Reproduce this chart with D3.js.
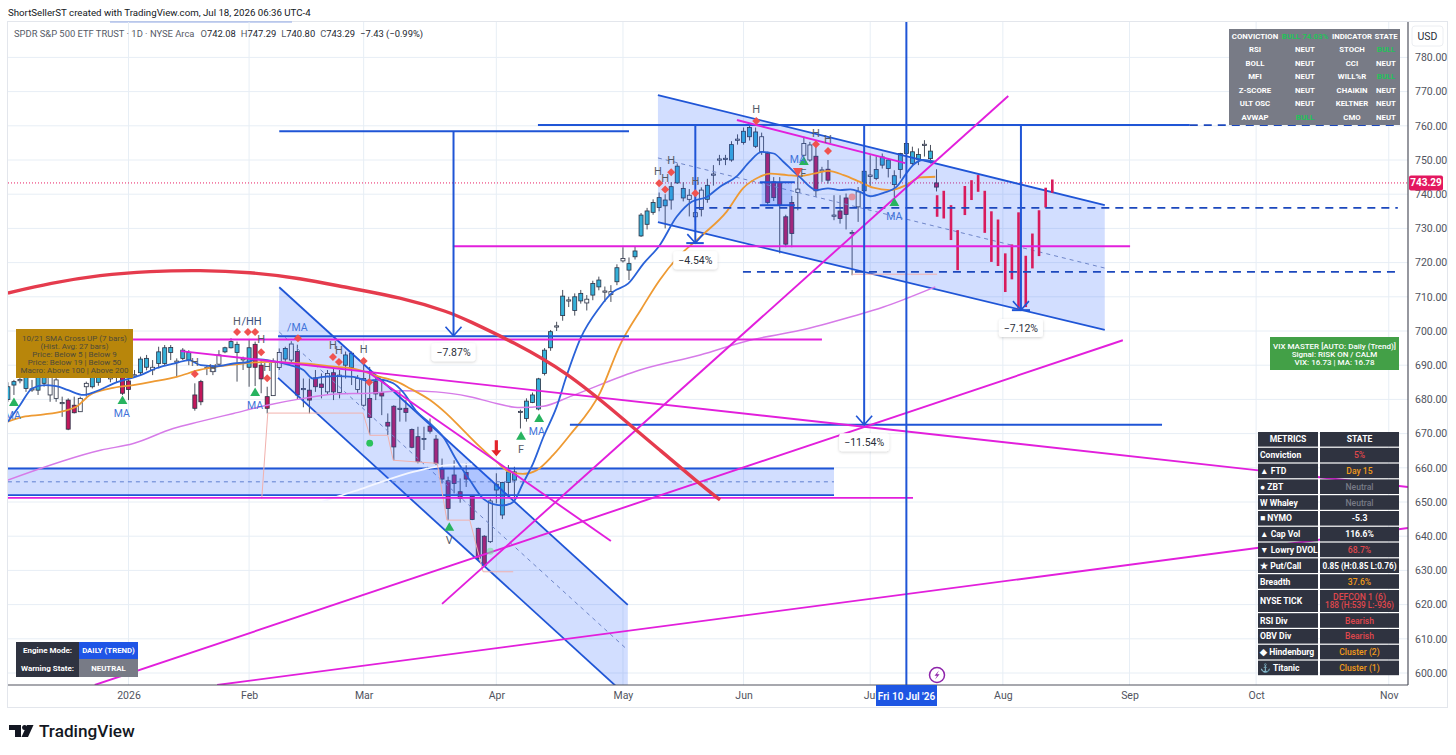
<!DOCTYPE html>
<html lang="en">
<head>
<meta charset="utf-8"/>
<style>
html, body { margin: 0; padding: 0; background: #fff; }
svg { display: block; }
text { font-family: Roboto, "Noto Sans", sans-serif; }
</style>
</head>
<body>
<svg id="chart" width="1456" height="755"></svg>
<script src="https://cdnjs.cloudflare.com/ajax/libs/d3/7.8.5/d3.min.js"></script>
<script>
// daily bars, first bar is trading day -20 (day 0 = first bar of 2026)
var firstDay = -20;
var barOpen = [
  680,684.2,685.6,683.2,682.9,682.7,684.7,686.6,685.7,679.1,
  679.8,678.3,676.4,683.7,683.7,685,688,686,688,686.6,
  685.4,687.1,687.8,689.4,688.6,690.5,690.5,693.7,691,692,
  691.5,681.3,685.2,689.3,688.1,690.3,693.9,695.1,693.7,691.8,
  689.4,696.1,690,680.8,681.1,689.3,691.8,691.5,694,683,
  682.7,686.3,684.5,687.6,687.8,682,690,689.3,686.1,686.1,
  680.3,685.2,682,673.3,678,677.4,677.4,671.2,669.1,668.6,
  672.2,668.4,659.5,656.2,657.9,653,658.6,651.7,642.3,640,
  638.4,653.5,646.2,655.7,656.4,676.3,674.4,679.1,677.2,687.6,
  695.1,701.4,704.5,709,706,708.8,708.2,710.5,712.9,711.6,
  710.7,714.4,720.5,717.8,721.7,727.8,731.2,734.7,736.1,736.6,
  738.3,743.3,738.9,738.5,733.4,735.5,738.5,745.8,750.2,750.4,
  750,756,755.1,756.8,754,756.8,751.9,743.6,743.4,733.4,
  737.6,741.5,751.4,754.4,751.1,747,747.3,733.9,735.1,738.9,
  728.8,736.3,741,745.2,744.6,748.5,747.5,742.8,747.2,751.9,
  749,750.2,754.5,750.4,742.08
];
var barHigh = [
  685,685.7,686.6,687.6,685.7,687.6,687.6,687.6,686.6,680.8,
  680.3,680.8,680.8,685.2,687.1,688.5,690,689.5,689,687.6,
  687.6,688.6,692.5,693,691.5,695.4,695.9,695.9,692,695,
  694.4,684.7,685.7,690,690,694.4,695.4,697.9,696.9,692.5,
  697.4,696.9,691.5,683.7,692,694.9,695.4,697,696,686.1,
  686.1,688.6,687.6,688.6,689,688.6,694,694,687.1,690.5,
  689.5,686.6,685.2,675.9,678.3,682.7,679.8,671.5,672,672,
  674.4,669.6,662.7,657.4,662.2,656.9,661.3,652,642.5,640.3,
  651,658.4,655.9,660.8,660.3,677,680.3,682,686.3,695,
  700.3,702.7,712,710,711,712,710.5,714.7,715.9,713,
  713.4,719.5,724.5,721.5,724.6,734.5,736,738.5,740.5,740,
  743.5,749,743.5,741.5,740,742,744.5,748.5,751.5,751.5,
  755.5,757.5,759.5,760.2,759.5,758,752.4,745,745,734,
  739.5,747,756.8,755.3,754.8,748,750,739.7,739.7,740.2,
  729.5,742.1,747,751.4,751.1,751.9,750.5,747,752.1,755,
  753.9,753.4,755.8,754.4,747.29
];
var barLow = [
  679.3,681.3,684.7,682.2,682.2,681.3,683.7,679.3,679.3,674.9,
  671,675.9,676.4,680.8,683.2,684,687,685,685,681.3,
  679.8,686.6,687.1,688.5,687.1,689.1,690,691.5,686.6,691.5,
  690,676.7,678.3,687.1,687.1,689.6,693.5,694.9,685.2,688.6,
  683.7,683.9,681.8,675.9,681.1,688.6,691,690.5,680,677.7,
  675.9,682.2,680.3,681.3,679.8,680.3,686.1,684.2,681.8,677.9,
  669.6,679.8,675.4,669.6,662.2,673.5,673.5,665.7,661.3,665.2,
  670,660.8,655.4,644.7,652.5,649.8,654.4,644.7,633,631,
  638,649.6,645,651.5,651,671.5,673.5,678.9,676.8,687,
  694.2,700,703,707,704.5,708,706,709,711.9,708.5,
  708.5,713.4,720,714.9,720.9,727.5,729.7,734,735,730,
  735.5,743,737.9,733.5,732,733.5,737.5,742.5,748.5,748.5,
  749.5,754.5,754.5,755.7,753.5,751.5,737,738,722.7,724.5,
  724.5,735.3,751,749.5,739.2,743.6,743.1,732.4,731.4,729.7,
  716.3,731.9,740.7,742.2,744.1,747.5,744.9,739.2,744.6,751.5,
  748.5,748.5,751,749,740.8
];
var barClose = [
  683.7,685.2,685.8,686.6,683.1,686.6,686.6,681.3,680.3,679,
  671.3,676.1,680.3,684.7,686.6,688,689,689,687,681.8,
  682.9,687.2,691.8,692,689.4,693.9,695.1,695.2,691.2,694.4,
  693.7,677.4,679.3,689.4,689.1,693,695.1,696.9,696.1,691.9,
  695.1,689.4,686,677.4,691,693.7,694.9,696.2,681.3,683.2,
  679.8,683.7,683.5,682.2,682.2,687.1,693,693.5,682.9,678.3,
  674.7,681.6,681,672.2,666.1,677.2,676.2,666,661.8,668.5,
  670.7,661.3,656.7,648.1,655.4,651,656.7,644.9,633.5,631.5,
  650.3,655.2,655.7,658.8,658.8,676.5,679.5,681.3,686,694.4,
  699.8,701.5,710.2,709.1,710,711,709.3,713.9,714.9,711.7,
  711.5,718.5,721.2,719.7,723.4,733.9,735.1,737.6,739,738.3,
  742.2,748.2,741.7,739.7,734.6,741.2,742.6,745.9,750.3,750.5,
  754.5,756.1,758.4,759.5,758.2,752.4,737.6,739,736.8,725.4,
  728.5,740.5,754.8,750,741,747.1,744.1,733.8,732.9,734.1,
  728.7,740.7,746.7,745.6,747.2,750.9,750,745.4,751.9,754.8,
  752.4,751.6,754.6,752.6,743.29
];
// U = blue up state, D = crimson down state, N = hollow
var barState = [
  "UUNUNUUNNN","DDNNUUUNND","DNUUNUUUNU","UDDNNNUUUN","UDDDNNUNDN",
  "DDDNDNUUNN","DDDDDNDDDN","DDDDDDDDDD","NUUUUNUUUU","UNUNUUNUUN",
  "NUNUUUUUUU","UUUNNNUNNN","UNUUUNDDDD","DNNNDNDNDD","NNUNUUUUUU","UUNUD"
].join("").split("");

// projected bars after the last close: day position, top, bottom
var projDay = [134.1,135.2,136.4,137.5,138.7,139.8,140.9,142,143.1,144.2,145.4,146.5,147.6,148.8,149.9,151,152.1,153.2];
var projTop = [739.7,741,736.8,729.5,742.4,744.1,745.6,741,735,732.6,722.7,725.3,734.7,722,728.5,735.3,741.9,744.3];
var projBot = [733.4,732.9,726.6,717.8,733.9,738.3,740.7,728.7,720.2,719,711.4,715.1,706.6,707,718.3,721.9,736.1,740.4];

// moving averages, points
var ma10Day = [-20,-18,-16,-14,-12,-10,-7.5,-5.6,-2,2,4.6,8,10,12,14.6,17.4,20,21,23,26.8,29,30.6,32.3,34.5,37.3,39.5,41.7,43.9,45.5,47.8,50,52.2,54.4,56.6,58.8,60.5,62.1,63.8,65.4,67.1,68.8,71,72.6,75,78,80.4,82.9,85.4,88.1,90.9,93.4,95.9,98.1,100.9,103,105,107,108.6,110.3,111.4,113,114.1,116,118,119.7,121.3,123,125.2,127.4,129,130.1,131.8,133.8];
var ma10Val = [673.5,678.3,683.2,684.2,683.9,682.7,681.3,682.2,685,687.1,689.1,690.7,691.5,690,689.7,690.5,691,691.8,691.5,690,688.6,686.1,686.6,686.8,686.6,685.5,685.8,684.7,682.2,676.4,673,669,662.2,656.4,651,649.4,649,650,655.4,661.3,669,677.8,686.6,698,706.6,711.5,713.9,719.7,725.1,733.4,737.8,739.2,742.2,745.3,749.5,752.4,751.9,749.5,746.6,744.9,742.2,741.2,741.7,741.2,741.4,740.7,739.4,740.4,742.2,746.1,748.5,750,749.5];
var ma21Day = [-20,-17.5,-14,-10.8,-8.6,-6.4,-3,0.8,4,8,11.8,15.2,19,23,29,34.5,37.3,41.7,44.5,46.7,50,52.7,55.5,58.3,61,63.2,65.4,67.7,70.4,73.2,78.2,81.5,85.1,88.1,90.9,94.8,99.2,101.9,104.7,106.4,109.2,111.4,113.6,116,118.6,121.3,123.5,126.3,129,131.3,133.8];
var ma21Val = [673.5,674.9,675.6,676.6,677.9,681.3,683.2,684.2,685.2,686.6,688.6,689.7,690.5,691,690.5,689.5,689,686.6,685.2,683.2,679.8,675.9,671,666.1,661.8,658.8,658.2,659.3,663.7,669.6,681.9,695.9,706.6,714.9,721.2,727.5,734.9,741.7,745.1,746,745.6,745.3,746,746.8,745.6,743.6,741.9,741.2,742.7,744.9,745.1];
var ma100Day = [-20,-4.5,0.8,7.4,11.8,17.4,23,29,34.5,40,45.5,51,56.6,61,64.9,68.8,73.2,84.8,94.8,103,111.4,119.7,125.2,129,133.8];
var ma100Val = [656.4,665.2,667.1,671.5,673.5,675.9,678.3,680.3,681.6,681.8,682.5,682.2,680.8,678.8,677.6,678,680.8,688.6,693,697.3,700.2,704.1,707,709.5,712.9];
var ma200Day = [32,34.5,38.9,42.8,47.2,51,54.9,57];
var ma200Val = [650,651.5,654,656.4,658.8,660.3,661,661];

// thin salmon support steps
var stepDay = [22.1,23.1,38.9,40,43,43.9,51.2,52.8,56.6,58.8,63.8];
var stepVal = [651,676,676,669.5,669.5,662.2,661.3,644.7,644.7,629.6,629.6];
var stepLateDay = [120,134.1];
var stepLateVal = [716.6,716.6];

// red arc drawing
var arcDay = [-20,-13,-4.7,3.6,11.9,20.1,28.4,36.7,45,53.3,56.1,63.8,72.7,81.5,88.1,94.8,98.1];
var arcVal = [711.1,714,716.4,717.5,717.8,717.2,715.5,712.5,709.9,705.5,703.2,696.8,688,675.1,665.2,655.2,650.6];

// parallel channels [day1, price1, day2, price2]
var channelFallA = { upper: [25,712.8,82.8,619.9], lower: [24.8,686.3,82.8,593], mid: [25,699.7,82.8,606.7] };
var channelFallB = { upper: [87.8,769,161.9,736.8], lower: [87.8,731.8,161.9,700.3], mid: [87.8,750.6,161.9,718.4] };
var rangeBox = [-20,659.8,117,652];
var rangeMid = [-20,655.9,117,655.9];
var miniBox = [105,743.5,110,736.8];

var blueSolid = [
  [25,758.4,83,758.4],[24.8,698.5,83,698.5],[73.2,672.6,171.4,672.6],[67.9,760.2,176,760.2],
  [92.5,725.7,95.4,725.7],[146.5,706.1,149.5,706.1],[104.7,743.5,110.5,743.5],[104.7,736.8,110.5,736.8]
];
var blueDashed = [[176,760.2,210.5,760.2],[94,736,210.5,736],[101.9,717.3,210.5,717.3]];
var magentaLines = [
  [53.8,724.8,166.1,724.8],[-18,697.5,115,697.5],[8.7,694.1,212.2,654.4],[39.7,688,80,638.6],
  [52,620.2,145.9,768.7],[-5.6,596.5,164.9,697.3],[14.7,596.5,212.2,642.4],[-20,651.2,130.1,651.2],
  [100.9,761.7,128.8,749.1]
];

// drop measures: day, from price, to price, label price, label
var dropDay = [53.9,94,122,148];
var dropFrom = [758.4,760.2,760.2,760.2];
var dropTo = [698.6,725.7,672.6,706.1];
var dropLabelAt = [693.8,720.7,667.5,700.9];
var dropLabel = ["\u22127.87%","\u22124.54%","\u221211.54%","\u22127.12%"];

// signal markers
var diamondDay = [18,19.8,21,22,23,11,28.1,33.9,34.9,39,39.9,88,89,90,94,104.1,114,116];
var diamondVal = [699.7,699.7,699.7,693.8,686.2,687.4,697.9,692.4,690.9,691.2,685,743.2,741.4,746.4,740.3,761.4,754.6,752.6];
var greenUpDay = [-19,-1,21,53.2,65.1,68.1,112,127];
var greenUpVal = [678.9,679.5,681.8,642.4,669,674.2,749.4,737.4];
var dotDay = [40,120,60];
var dotVal = [667.2,739.2,635.6];
var dotKind = ["bull","warn","faint"];

var noteText = ["H","/HH","H","H","H","H","H","H","H","H","H","H","H","H","H","H","MA","MA","MA","/MA","MA","MA","MA","F","F","V"];
var noteDay = [18,20.4,22,23,11,14,33.9,34.9,39,87.8,89,90,94,104.1,114,116,-19.2,-1.1,21,28,67.7,111,127,65.1,111.9,53.2];
var noteVal = [702.9,702.9,697.6,689.4,690.9,689.2,695.9,694.4,694.7,746.8,744.7,750,743.8,764.9,757.9,756.1,675.4,676,678.4,701.1,670.7,750.3,733.6,665.5,746.2,638.9];

// axes
var priceTicks = d3.range(600, 790, 10);
var monthDay = [0,20,39,61,82,102,123,145,166,187,209];
var monthName = ["2026","Feb","Mar","Apr","May","Jun","Jul","Aug","Sep","Oct","Nov"];

// status tables
var gridRows = [
  ["CONVICTION","BULL 74.03%","INDICATOR","STATE"],
  ["RSI","NEUT","STOCH","BULL"],
  ["BOLL","NEUT","CCI","NEUT"],
  ["MFI","NEUT","WILL%R","BULL"],
  ["Z-SCORE","NEUT","CHAIKIN","NEUT"],
  ["ULT OSC","NEUT","KELTNER","NEUT"],
  ["AVWAP","BULL","CMO","NEUT"]
];
var metricNames = ["METRICS","Conviction","\u25B2 FTD","\u25CF ZBT","W Whaley","\u25A0 NYMO","\u25B2 Cap Vol","\u25BC Lowry DVOL","\u2605 Put/Call","Breadth","NYSE TICK","RSI Div","OBV Div","\u25C6 Hindenburg","\u2693 Titanic"];
var metricStates = ["STATE","5%","Day 15","Neutral","Neutral","-5.3","116.6%","68.7%","0.85 (H:0.85 L:0.76)","37.6%","DEFCON 1 (6)|188 (H:539 L:-936)","Bearish","Bearish","Cluster (2)","Cluster (1)"];
var metricTone = ["head","bad","warn","mute","mute","plain","plain","bad","plain","warn","bad","bad","bad","warn","warn"];
var legendLines = ["10/21 SMA Cross UP (7 bars)","(Hist. Avg: 27 bars)","Price: Below 5 | Below 9","Price: Below 19 | Below 50","Macro: Above 100 | Above 200"];
var vixLines = ["VIX MASTER [AUTO: Daily (Trend)]","Signal: RISK ON / CALM","VIX: 16.73  |  MA: 16.78"];

var paneLeft = 8, paneRight = 1408, paneTop = 22, paneBottom = 685;
var blue = "#1f55d6", magenta = "#e21fdc", crimson = "#c2185b";
var svg = d3.select("#chart");

var x = d3.scaleLinear().domain([0, 200]).range([128.5, 1334.5]);
var y = d3.scaleLinear().domain([600, 780]).range([673, 57.4]);

var defs = svg.append("defs");
defs.append("clipPath").attr("id", "pane").append("rect")
  .attr("x", paneLeft).attr("y", paneTop)
  .attr("width", paneRight - paneLeft).attr("height", paneBottom - paneTop);
var shadow = defs.append("filter").attr("id", "soft").attr("x", "-20%").attr("y", "-30%").attr("width", "140%").attr("height", "160%");
shadow.append("feDropShadow").attr("dx", 0).attr("dy", 1).attr("stdDeviation", 1.5).attr("flood-color", "#000").attr("flood-opacity", 0.18);

// frame
svg.append("rect").attr("x", 7.5).attr("y", 21.5).attr("width", 1440).attr("height", 686)
  .attr("fill", "none").attr("stroke", "#e3e6ec");
svg.append("line").attr("x1", 110).attr("x2", 292).attr("y1", 22).attr("y2", 22)
  .attr("stroke", "#8fa8e6").attr("stroke-width", 1.2);

// grid
var grid = svg.append("g").attr("clip-path", "url(#pane)");
grid.selectAll("line.h").data(priceTicks).enter().append("line").attr("class", "h")
  .attr("x1", paneLeft).attr("x2", paneRight)
  .attr("y1", function(d) { return y(d); }).attr("y2", function(d) { return y(d); })
  .attr("stroke", "#e7eef5");
grid.selectAll("line.v").data(monthDay).enter().append("line").attr("class", "v")
  .attr("y1", paneTop).attr("y2", paneBottom)
  .attr("x1", function(d) { return x(d); }).attr("x2", function(d) { return x(d); })
  .attr("stroke", "#e7eef5");

var plot = svg.append("g").attr("clip-path", "url(#pane)");

// last price dotted line
plot.append("line").attr("x1", paneLeft).attr("x2", paneRight)
  .attr("y1", y(743.29)).attr("y2", y(743.29))
  .attr("stroke", "#e91e63").attr("stroke-width", 1).attr("stroke-dasharray", "1 2");

// candles
var bars = d3.range(barOpen.length).map(function(k) {
  return { day: firstDay + k, o: barOpen[k], h: barHigh[k], l: barLow[k], c: barClose[k], s: barState[k] };
});
var stateFill = { U: "#35b0d8", D: crimson, N: "#ffffff" };
var candle = plot.append("g").selectAll("g").data(bars).enter().append("g");
candle.append("line")
  .attr("x1", function(d) { return x(d.day); }).attr("x2", function(d) { return x(d.day); })
  .attr("y1", function(d) { return y(d.h); }).attr("y2", function(d) { return y(d.l); })
  .attr("stroke", "#4a4f5c").attr("stroke-width", 1);
candle.append("rect")
  .attr("x", function(d) { return x(d.day) - 2; }).attr("width", 4)
  .attr("y", function(d) { return y(Math.max(d.o, d.c)); })
  .attr("height", function(d) { return Math.max(1.2, Math.abs(y(d.o) - y(d.c))); })
  .attr("fill", function(d) { return stateFill[d.s]; })
  .attr("stroke", "#2a3145").attr("stroke-width", 0.8);

function drawCurve(days, vals, color, width, curve) {
  var pts = days.map(function(d, k) { return [d, vals[k]]; });
  plot.append("path").datum(pts)
    .attr("d", d3.line().x(function(d) { return x(d[0]); }).y(function(d) { return y(d[1]); }).curve(curve || d3.curveMonotoneX))
    .attr("fill", "none").attr("stroke", color).attr("stroke-width", width);
}
function drawSeg(s, color, width, dash) {
  plot.append("line")
    .attr("x1", x(s[0])).attr("y1", y(s[1])).attr("x2", x(s[2])).attr("y2", y(s[3]))
    .attr("stroke", color).attr("stroke-width", width).attr("stroke-dasharray", dash || null);
}

// filled channels and boxes
var fillBlue = "rgba(41,98,255,0.21)";
function drawChannel(ch) {
  var pts = [[ch.upper[0], ch.upper[1]], [ch.upper[2], ch.upper[3]], [ch.lower[2], ch.lower[3]], [ch.lower[0], ch.lower[1]]];
  plot.append("polygon")
    .attr("points", pts.map(function(p) { return x(p[0]) + "," + y(p[1]); }).join(" "))
    .attr("fill", fillBlue);
  drawSeg(ch.mid, "#6f86c9", 1, "4 4");
  drawSeg(ch.upper, blue, 1.8);
  drawSeg(ch.lower, blue, 1.8);
}
drawChannel(channelFallA);
drawChannel(channelFallB);
plot.append("rect").attr("x", x(rangeBox[0])).attr("y", y(rangeBox[1]))
  .attr("width", x(rangeBox[2]) - x(rangeBox[0])).attr("height", y(rangeBox[3]) - y(rangeBox[1]))
  .attr("fill", fillBlue);
drawSeg([rangeBox[0], rangeBox[1], rangeBox[2], rangeBox[1]], blue, 1.8);
drawSeg([rangeBox[0], rangeBox[3], rangeBox[2], rangeBox[3]], blue, 1.8);
drawSeg(rangeMid, "#5f7fd0", 1, "4 4");
plot.append("rect").attr("x", x(miniBox[0])).attr("y", y(miniBox[1]))
  .attr("width", x(miniBox[2]) - x(miniBox[0])).attr("height", y(miniBox[3]) - y(miniBox[1]))
  .attr("fill", fillBlue);

// projection bars
plot.append("g").selectAll("rect").data(projDay).enter().append("rect")
  .attr("x", function(d) { return x(d) - 1.3; }).attr("width", 2.6)
  .attr("y", function(d, k) { return y(projTop[k]); })
  .attr("height", function(d, k) { return y(projBot[k]) - y(projTop[k]); })
  .attr("fill", "#d81b5c");

// moving averages and step lines
drawCurve(ma200Day, ma200Val, "#f4f6ff", 1.8);
drawCurve(ma100Day, ma100Val, "#d67be8", 1.5);
drawCurve(ma21Day, ma21Val, "#ee9a33", 1.8);
drawCurve(ma10Day, ma10Val, "#2a62d8", 1.8);
drawCurve(stepDay, stepVal, "#f2b1ad", 1, d3.curveLinear);
drawCurve(stepLateDay, stepLateVal, "#f2b1ad", 1, d3.curveLinear);

// straight drawings
blueSolid.forEach(function(s) { drawSeg(s, blue, 2); });
blueDashed.forEach(function(s) { drawSeg(s, "#1c48bd", 1.7, "8 6"); });
magentaLines.forEach(function(s) { drawSeg(s, magenta, 1.9); });
drawCurve(arcDay, arcVal, "#e53b4d", 3.4, d3.curveBasis);

// crosshair
plot.append("line").attr("x1", x(129)).attr("x2", x(129)).attr("y1", paneTop).attr("y2", paneBottom)
  .attr("stroke", blue).attr("stroke-width", 2);

// drop arrows
dropDay.forEach(function(d, k) {
  var px = x(d), tip = y(dropTo[k]);
  drawSeg([d, dropFrom[k], d, dropTo[k]], blue, 2);
  plot.append("path").attr("d", "M" + (px - 8) + "," + (tip - 9) + "L" + px + "," + tip + "L" + (px + 8) + "," + (tip - 9))
    .attr("fill", "none").attr("stroke", blue).attr("stroke-width", 1.6);
});

// markers
plot.append("g").selectAll("path").data(diamondDay).enter().append("path")
  .attr("d", d3.symbol().type(d3.symbolSquare).size(32))
  .attr("transform", function(d, k) { return "translate(" + x(d) + "," + y(diamondVal[k]) + ") rotate(45)"; })
  .attr("fill", "#f0524f");
plot.append("g").selectAll("path").data(greenUpDay).enter().append("path")
  .attr("d", d3.symbol().type(d3.symbolTriangle).size(42))
  .attr("transform", function(d, k) { return "translate(" + x(d) + "," + y(greenUpVal[k]) + ")"; })
  .attr("fill", "#27b35f");
plot.append("path").attr("d", d3.symbol().type(d3.symbolTriangle).size(42))
  .attr("transform", "translate(" + x(111) + "," + y(746.8) + ") rotate(180)")
  .attr("fill", "#f0524f");
var dotStyle = { bull: ["#2bc25c", 1], warn: ["#e5737a", 0.7], faint: ["#7bdc9c", 0.6] };
plot.append("g").selectAll("circle").data(dotDay).enter().append("circle")
  .attr("cx", function(d) { return x(d); })
  .attr("cy", function(d, k) { return y(dotVal[k]); })
  .attr("r", 3.4)
  .attr("fill", function(d, k) { return dotStyle[dotKind[k]][0]; })
  .attr("opacity", function(d, k) { return dotStyle[dotKind[k]][1]; });

// red arrow over the April low
var ax = x(61);
plot.append("path")
  .attr("d", "M" + ax + "," + y(663.4) + "l-5,-6h3.4v-10h3.2v10h3.4z")
  .attr("fill", "#e3242b");

plot.append("g").selectAll("text").data(noteText).enter().append("text")
  .attr("x", function(d, k) { return x(noteDay[k]); })
  .attr("y", function(d, k) { return y(noteVal[k]); })
  .attr("dy", "0.35em").attr("text-anchor", "middle")
  .attr("font-size", function(d) { return d.indexOf("MA") >= 0 ? 10.5 : 11; })
  .attr("fill", function(d) { return d.indexOf("MA") >= 0 ? "#3f73d9" : (d.charAt(0) === "/" ? "#3b4f7d" : "#555b68"); })
  .text(function(d) { return d; });

// drop labels
var dropG = svg.append("g").selectAll("g").data(dropDay).enter().append("g")
  .attr("transform", function(d, k) { return "translate(" + x(d) + "," + y(dropLabelAt[k]) + ")"; });
dropG.append("rect").attr("x", function(d, k) { return k === 2 ? -25 : -22; }).attr("y", -9)
  .attr("width", function(d, k) { return k === 2 ? 50 : 44; }).attr("height", 18).attr("rx", 3)
  .attr("fill", "#fff").attr("filter", "url(#soft)");
dropG.append("text").attr("text-anchor", "middle").attr("dy", "0.35em").attr("font-size", 10.5)
  .attr("fill", "#2a2e39").text(function(d, k) { return dropLabel[k]; });

// axes
var yAxis = svg.append("g").attr("transform", "translate(" + paneRight + ",0)")
  .call(d3.axisRight(y).tickValues(priceTicks).tickFormat(d3.format(".2f")).tickSize(0).tickPadding(7));
yAxis.select(".domain").attr("d", "M0," + paneTop + "V" + paneBottom).attr("stroke", "#50535e").attr("stroke-width", 1.2);
yAxis.selectAll("text").attr("font-size", 10.5).attr("fill", "#50535e").style("font-family", 'Roboto, sans-serif');

var xAxis = svg.append("g").attr("transform", "translate(0," + paneBottom + ")")
  .call(d3.axisBottom(x).tickValues(monthDay).tickFormat(function(d, k) { return monthName[k]; }).tickSize(0).tickPadding(7));
xAxis.select(".domain").attr("d", "M" + paneLeft + ",0H" + paneRight).attr("stroke", "#50535e").attr("stroke-width", 1.2);
xAxis.selectAll("text").attr("font-size", 10.5).attr("fill", "#50535e").style("font-family", 'Roboto, sans-serif');

// USD box and last price tag
svg.append("rect").attr("x", 1412).attr("y", 26).attr("width", 31).attr("height", 20).attr("rx", 3)
  .attr("fill", "#fff").attr("stroke", "#eceef2");
svg.append("text").attr("x", 1427.5).attr("y", 39.5).attr("text-anchor", "middle").attr("font-size", 10.5).attr("fill", "#2a2e39").text("USD");
svg.append("rect").attr("x", 1409).attr("y", y(743.29) - 7.5).attr("width", 34).attr("height", 15).attr("rx", 2).attr("fill", "#e3175f");
svg.append("text").attr("x", 1426).attr("y", y(743.29)).attr("dy", "0.35em").attr("text-anchor", "middle")
  .attr("font-size", 10).attr("font-weight", 700).attr("fill", "#fff").text("743.29");

// crosshair date tag and event icon
svg.append("rect").attr("x", 876).attr("y", paneBottom).attr("width", 61).attr("height", 21).attr("fill", "#1e56e3");
svg.append("text").attr("x", 906.5).attr("y", 696).attr("dy", "0.35em").attr("text-anchor", "middle")
  .attr("font-size", 10).attr("font-weight", 600).attr("fill", "#fff").text("Fri 10 Jul '26");
svg.append("circle").attr("cx", 937).attr("cy", 675).attr("r", 7.5).attr("fill", "#fff").attr("stroke", "#8e24aa").attr("stroke-width", 1.5);
svg.append("path").attr("d", "M939,670.5L934.5,675.8H937L935,679.5L939.6,674.2H937Z").attr("fill", "#8e24aa");

// header
svg.append("text").attr("x", 8).attr("y", 16).attr("font-size", 9.7).attr("fill", "#131722")
  .text("ShortSellerST created with TradingView.com, Jul 18, 2026 06:36 UTC-4");
var head = svg.append("text").attr("x", 14).attr("y", 37).attr("font-size", 9.4).attr("fill", "#555a66");
head.append("tspan").text("SPDR S&P 500 ETF TRUST \u00B7 1D \u00B7 NYSE Arca");
[["O","742.08"],["H","747.29"],["L","740.80"],["C","743.29"]].forEach(function(p, k) {
  head.append("tspan").attr("dx", k === 0 ? 6 : 5).text(p[0]);
  head.append("tspan").attr("fill", "#222630").text(p[1]);
});
head.append("tspan").attr("dx", 5).attr("fill", "#222630").text("\u22127.43 (\u22120.99%)");

// conviction grid
var gridCols = [1255, 1305, 1352, 1386];
svg.append("rect").attr("x", 1229).attr("y", 29).attr("width", 171).attr("height", 96).attr("fill", "#787b86");
gridRows.forEach(function(row, r) {
  row.forEach(function(t, c) {
    svg.append("text").attr("x", gridCols[c]).attr("y", 36 + r * 13.5).attr("dy", "0.35em")
      .attr("text-anchor", "middle").attr("font-size", 7.8).attr("font-weight", 700)
      .attr("fill", t.indexOf("BULL") === 0 ? "#22c25a" : "#fff").text(t);
  });
});

// VIX box
svg.append("rect").attr("x", 1270).attr("y", 337).attr("width", 129).attr("height", 33).attr("fill", "#43a047");
vixLines.forEach(function(t, k) {
  svg.append("text").attr("x", 1334.5).attr("y", 346 + k * 8).attr("dy", "0.35em").attr("text-anchor", "middle")
    .attr("font-size", 8).attr("font-weight", 500).attr("fill", "#fff").text(t);
});

// SMA cross note
svg.append("rect").attr("x", 16).attr("y", 329).attr("width", 117).attr("height", 49).attr("fill", "#b8860b");
legendLines.forEach(function(t, k) {
  svg.append("text").attr("x", 74.5).attr("y", 338 + k * 8).attr("dy", "0.35em").attr("text-anchor", "middle")
    .attr("font-size", 8).attr("fill", "#4e4a3a").text(t);
});

// metrics table
var toneColor = { head: "#fff", bad: "#e0474c", warn: "#f09a1a", mute: "#787b86", plain: "#fff" };
var rowTop = 432;
metricNames.forEach(function(name, k) {
  var tall = name === "NYSE TICK";
  var h = tall ? 22 : 14.6;
  var cy = rowTop + h / 2;
  svg.append("rect").attr("x", 1258).attr("y", rowTop).attr("width", 60).attr("height", h).attr("fill", "#2f3340");
  svg.append("rect").attr("x", 1320).attr("y", rowTop).attr("width", 79).attr("height", h).attr("fill", "#2f3340");
  var label = svg.append("text").attr("y", cy).attr("dy", "0.35em").attr("font-size", 8.6).attr("font-weight", 700).attr("fill", "#fff");
  if (k === 0) label.attr("x", 1288).attr("text-anchor", "middle").text(name);
  else label.attr("x", 1260).text(name);
  var parts = metricStates[k].split("|");
  parts.forEach(function(t, j) {
    svg.append("text").attr("x", 1359.5).attr("y", cy + (j - (parts.length - 1) / 2) * 8.5).attr("dy", "0.35em")
      .attr("text-anchor", "middle").attr("font-size", t.length > 15 ? 8.2 : 8.6).attr("font-weight", k === 0 || metricTone[k] === "plain" ? 700 : 500)
      .attr("fill", toneColor[metricTone[k]]).text(t);
  });
  rowTop += h + 1.2;
});

// engine panel
svg.append("rect").attr("x", 16).attr("y", 642).attr("width", 63).attr("height", 35).attr("fill", "#2f3340");
svg.append("rect").attr("x", 79).attr("y", 642).attr("width", 59).attr("height", 17).attr("fill", "#1f55e6");
svg.append("rect").attr("x", 79).attr("y", 659).attr("width", 59).attr("height", 18).attr("fill", "#787b86");
[["Engine Mode:", 47.5, 650.5, 8], ["Warning State:", 47.5, 668.5, 8], ["DAILY (TREND)", 108.5, 650.5, 7.8], ["NEUTRAL", 108.5, 668.5, 7.8]].forEach(function(t) {
  svg.append("text").attr("x", t[1]).attr("y", t[2]).attr("dy", "0.35em").attr("text-anchor", "middle")
    .attr("font-size", t[3]).attr("font-weight", 700).attr("fill", "#fff").text(t[0]);
});

// footer logo
svg.append("path").attr("d", "M9,725H21V737H15V730H9Z").attr("fill", "#131722");
svg.append("circle").attr("cx", 24.6).attr("cy", 727.5).attr("r", 2.5).attr("fill", "#131722");
svg.append("path").attr("d", "M33.5,725L28,737H21.5L27,725Z").attr("fill", "#131722");
svg.append("text").attr("x", 39).attr("y", 737).attr("font-size", 17.2).attr("font-weight", 500)
  .attr("fill", "#131722").text("TradingView");
</script>
</body>
</html>
